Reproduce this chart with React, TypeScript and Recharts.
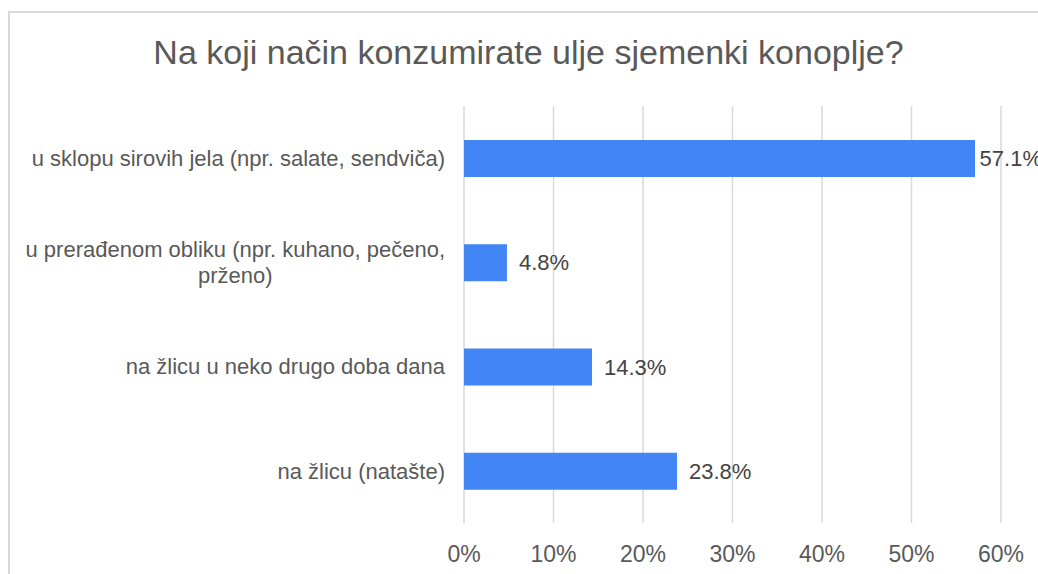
import React from "react";
import { BarChart, Bar, XAxis, YAxis, CartesianGrid, LabelList } from "recharts";

const title = "Na koji način konzumirate ulje sjemenki konoplje?";
const categories = [
  "u sklopu sirovih jela (npr. salate, sendviča)",
  "u prerađenom obliku (npr. kuhano, pečeno,\nprženo)",
  "na žlicu u neko drugo doba dana",
  "na žlicu (natašte)",
];
const shares = [57.1, 4.8, 14.3, 23.8];
const xTicks = [0, 10, 20, 30, 40, 50, 60];

const data = categories.map((name, i) => ({ name, value: shares[i] }));

const FONT = "'Liberation Sans', Arial, sans-serif";
const TEXT = "#595959";
const CHART_W = 1038;

let ctx: CanvasRenderingContext2D | null = null;
const measure = (s: string, size: number) => {
  if (!ctx) ctx = document.createElement("canvas").getContext("2d");
  if (!ctx) return s.length * size * 0.5;
  ctx.font = `${size}px ${FONT}`;
  return ctx.measureText(s).width;
};

const CategoryTick = (props: any) => {
  const { x, y, payload } = props;
  const lines: string[] = String(payload.value).split("\n");
  const right = x - 19;
  const lh = 26;
  const startY = y - ((lines.length - 1) * lh) / 2;
  const maxW = Math.max(...lines.map((l) => measure(l, 22)));
  const cx = right - maxW / 2;
  return (
    <g>
      {lines.map((l, i) => (
        <text
          key={i}
          x={lines.length > 1 ? cx : right}
          y={startY + i * lh}
          dy="0.35em"
          textAnchor={lines.length > 1 ? "middle" : "end"}
          fill={TEXT}
          fontSize={22}
          fontFamily={FONT}
        >
          {l}
        </text>
      ))}
    </g>
  );
};

const PercentTick = (props: any) => {
  const { x, y, payload } = props;
  return (
    <text x={x} y={y + 39} textAnchor="middle" fill={TEXT} fontSize={23} fontFamily={FONT}>
      {payload.value}%
    </text>
  );
};

const ValueLabel = (props: any) => {
  const { x, y, width, height, value } = props;
  const s = `${Number(value).toFixed(1)}%`;
  const w = measure(s, 22);
  const tx = Math.min(x + width + 12, CHART_W + 4 - w);
  return (
    <text x={tx} y={y + height / 2} dy="0.35em" fill="#444" fontSize={22} fontFamily={FONT}>
      {s}
    </text>
  );
};

export default function App() {
  return (
    <div style={{ position: "relative", width: 1038, height: 574, overflow: "hidden", background: "#fff" }}>
      <style>{`body{margin:0;overflow:hidden;}`}</style>
      <div
        style={{
          position: "absolute",
          left: 8,
          top: 11,
          width: 1200,
          height: 700,
          borderTop: "2px solid #dadada",
          borderLeft: "2px solid #dadada",
        }}
      />
      <div
        style={{
          position: "absolute",
          left: 0,
          top: 32,
          width: 1057,
          textAlign: "center",
          fontFamily: FONT,
          fontSize: 34,
          lineHeight: "40px",
          color: TEXT,
        }}
      >
        {title}
      </div>
      <div style={{ position: "absolute", left: 0, top: 0 }}>
        <BarChart
          width={CHART_W}
          height={574}
          data={data}
          layout="vertical"
          margin={{ top: 106, right: 37, bottom: 0, left: 0 }}
        >
          <CartesianGrid horizontal={false} stroke="#d9d9d9" strokeWidth={1.5} />
          <XAxis
            type="number"
            domain={[0, 60]}
            ticks={xTicks}
            height={51}
            axisLine={false}
            tickLine={false}
            tickSize={0}
            tickMargin={0}
            tick={<PercentTick />}
            interval={0}
          />
          <YAxis
            type="category"
            dataKey="name"
            width={464}
            axisLine={false}
            tickLine={false}
            tickSize={0}
            tickMargin={0}
            tick={<CategoryTick />}
            interval={0}
          />
          <Bar dataKey="value" fill="#4285f4" barSize={37} isAnimationActive={false}>
            <LabelList dataKey="value" content={<ValueLabel />} />
          </Bar>
        </BarChart>
      </div>
    </div>
  );
}
